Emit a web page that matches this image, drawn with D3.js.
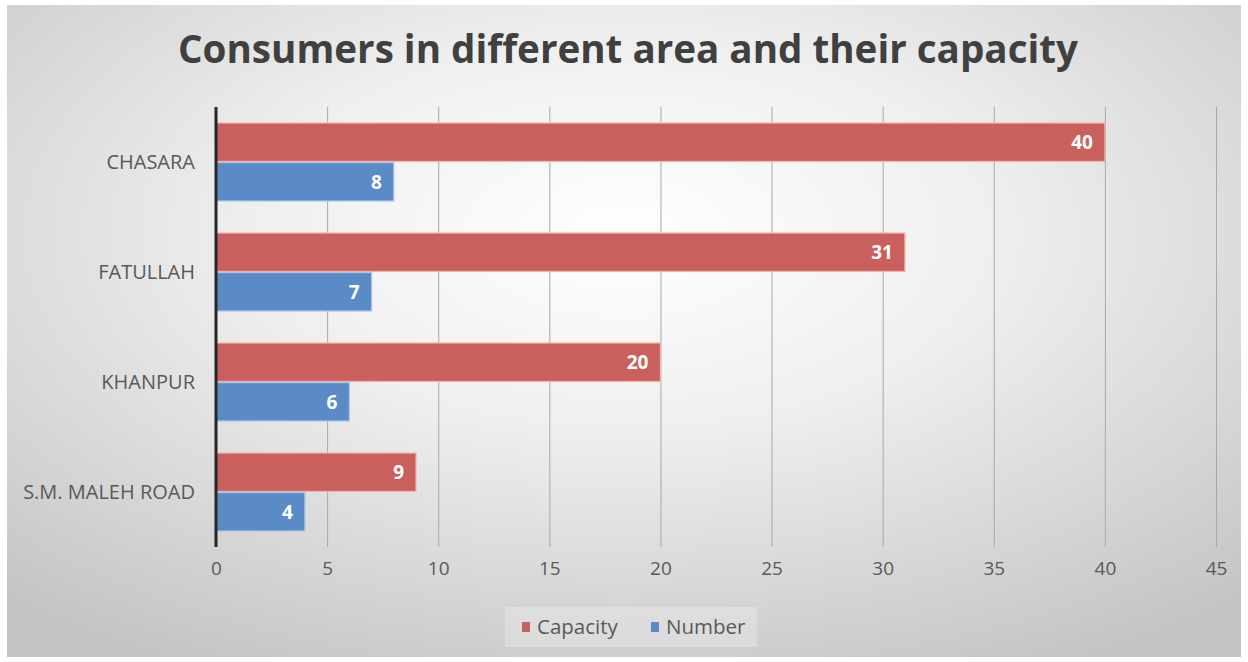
<!DOCTYPE html>
<html>
<head>
<meta charset="utf-8">
<script src="https://cdn.jsdelivr.net/npm/d3@7"></script>
<style>
  html, body { margin: 0; padding: 0; background: #ffffff; }
  svg { display: block; }
</style>
</head>
<body>
<svg id="chart" width="1248" height="662"></svg>
<script>
// Areas, top to bottom
const areas = ["CHASARA", "FATULLAH", "KHANPUR", "S.M. MALEH ROAD"];
// Series per area
const capacity = [40, 31, 20, 9];
const number = [8, 7, 6, 4];
const seriesNames = ["Capacity", "Number"];
const xTicks = [0, 5, 10, 15, 20, 25, 30, 35, 40, 45];

const W = 1248, H = 662;
const svg = d3.select("#chart");
const font = "'Open Sans', 'DejaVu Sans', sans-serif";

// Soft radial backdrop
const defs = svg.append("defs");
const grad = defs.append("radialGradient").attr("id", "bg")
  .attr("cx", "50%").attr("cy", "35%").attr("r", "75%");
grad.append("stop").attr("offset", "0%").attr("stop-color", "#ffffff");
grad.append("stop").attr("offset", "40%").attr("stop-color", "#efefef");
grad.append("stop").attr("offset", "100%").attr("stop-color", "#c4c4c4");
svg.append("rect").attr("x", 7).attr("y", 5).attr("width", W - 14).attr("height", H - 10)
  .attr("fill", "url(#bg)");

const margin = { left: 216, top: 107, bottom: 547 };
const x = d3.scaleLinear().domain([0, 45]).range([margin.left, margin.left + 1000]);
const y = d3.scaleBand().domain(areas).range([margin.top, margin.bottom])
  .paddingInner(0.27).paddingOuter(0.135);
const sub = d3.scaleBand().domain(seriesNames).range([0, y.bandwidth()]).padding(0.03);
const colors = { Capacity: "#c9605e", Number: "#5b8bc7" };
const strokes = { Capacity: "#f1b1ac", Number: "#a9c5e8" };

// Title
svg.append("text")
  .attr("x", 628).attr("y", 63)
  .attr("text-anchor", "middle")
  .attr("font-family", font).attr("font-weight", "bold")
  .attr("font-size", 40).attr("fill", "#404040")
  .attr("textLength", 900).attr("lengthAdjust", "spacingAndGlyphs")
  .text("Consumers in different area and their capacity");

// Vertical gridlines with value ticks
const xAxis = d3.axisBottom(x).tickValues(xTicks)
  .tickSize(-(margin.bottom - margin.top)).tickPadding(14);
const gx = svg.append("g").attr("transform", `translate(0,${margin.bottom})`).call(xAxis);
gx.select(".domain").remove();
gx.selectAll(".tick line").attr("stroke", "#a8a8a8").attr("stroke-width", 1);
gx.selectAll(".tick text").attr("font-family", font).attr("font-size", 19)
  .attr("fill", "#595959").attr("dy", "0.75em");

// Category labels
svg.append("g").selectAll("text").data(areas).join("text")
  .attr("x", 195)
  .attr("y", d => y(d) + y.bandwidth() / 2)
  .attr("dy", "0.35em")
  .attr("text-anchor", "end")
  .attr("font-family", font).attr("font-size", 20).attr("fill", "#595959")
  .text(d => d);

// Bars
const rows = areas.map((a, i) => ({ area: a, values: [
  { key: "Capacity", v: capacity[i] }, { key: "Number", v: number[i] }] }));
const groups = svg.append("g").selectAll("g").data(rows).join("g")
  .attr("transform", d => `translate(0,${y(d.area)})`);
groups.selectAll("rect").data(d => d.values).join("rect")
  .attr("x", x(0))
  .attr("y", d => sub(d.key))
  .attr("width", d => x(d.v) - x(0))
  .attr("height", sub.bandwidth())
  .attr("fill", d => colors[d.key])
  .attr("stroke", d => strokes[d.key]).attr("stroke-width", 1.2);
groups.selectAll("text").data(d => d.values).join("text")
  .attr("x", d => x(d.v) - 12)
  .attr("y", d => sub(d.key) + sub.bandwidth() / 2)
  .attr("dy", "0.36em")
  .attr("text-anchor", "end")
  .attr("font-family", font).attr("font-weight", "bold")
  .attr("font-size", 19).attr("fill", "#ffffff")
  .text(d => d.v);

// Category axis line
svg.append("line").attr("x1", x(0)).attr("x2", x(0))
  .attr("y1", margin.top).attr("y2", margin.bottom)
  .attr("stroke", "#262626").attr("stroke-width", 3);

// Legend
const lg = svg.append("g").attr("transform", "translate(505,607)");
lg.append("rect").attr("width", 252).attr("height", 40).attr("fill", "#e8e8e8").attr("opacity", 0.5);
const items = [{ k: "Capacity", x: 17 }, { k: "Number", x: 146 }];
items.forEach(it => {
  lg.append("rect").attr("x", it.x).attr("y", 15).attr("width", 8).attr("height", 10)
    .attr("fill", colors[it.k]);
  lg.append("text").attr("x", it.x + 15).attr("y", 20).attr("dy", "0.35em")
    .attr("font-family", font).attr("font-size", 20.5).attr("fill", "#595959")
    .text(it.k);
});
</script>
</body>
</html>
